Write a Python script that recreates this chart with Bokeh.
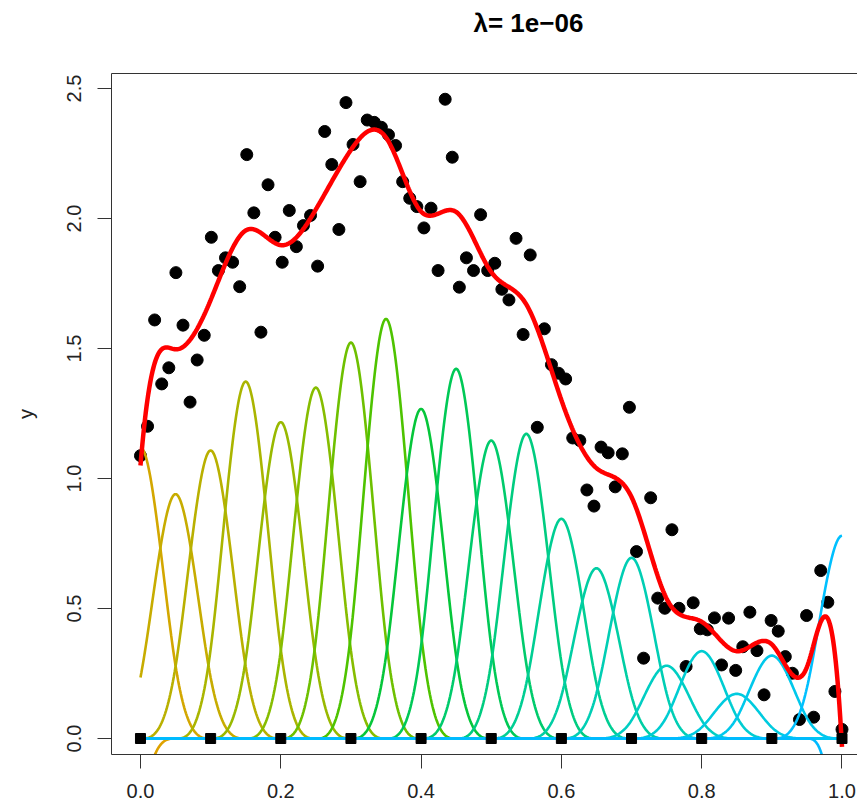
import math
import numpy as np
from bokeh.plotting import figure
from bokeh.models import Range1d, LinearAxis, FixedTicker, ColumnDataSource
from bokeh.embed import file_html
from bokeh.resources import INLINE

# ---- data ----
# observations: 100 equally spaced x in [0, 1]
obs_y = [1.088, 1.201, 1.610, 1.364, 1.426, 1.792, 1.590, 1.294, 1.456, 1.551,
         1.928, 1.800, 1.849, 1.832, 1.738, 2.246, 2.022, 1.563, 2.130, 1.928,
         1.832, 2.031, 1.892, 1.973, 2.012, 1.817, 2.335, 2.208, 1.958, 2.446,
         2.285, 2.142, 2.379, 2.370, 2.351, 2.322, 2.281, 2.142, 2.078, 2.046,
         1.964, 2.040, 1.800, 2.459, 2.236, 1.736, 1.849, 1.800, 2.015, 1.800,
         1.828, 1.728, 1.687, 1.924, 1.554, 1.860, 1.197, 1.576, 1.438, 1.405,
         1.383, 1.156, 1.146, 0.956, 0.894, 1.121, 1.099, 0.968, 1.095, 1.274,
         0.719, 0.309, 0.926, 0.540, 0.501, 0.803, 0.501, 0.277, 0.522, 0.422,
         0.418, 0.464, 0.283, 0.463, 0.262, 0.353, 0.486, 0.338, 0.168, 0.454,
         0.413, 0.315, 0.251, 0.073, 0.473, 0.082, 0.646, 0.524, 0.181, 0.035]
obs_x = list(np.linspace(0.0, 1.0, len(obs_y)))

# cubic B-spline basis: centres (knot spacing 0.05) and the peak height of each scaled basis curve
basis_centers = [-0.05, 0.00, 0.05, 0.10, 0.15, 0.20, 0.25, 0.30, 0.35, 0.40, 0.45, 0.50,
                 0.55, 0.60, 0.65, 0.70, 0.75, 0.80, 0.85, 0.90, 0.95, 1.00, 1.05]
basis_peaks = [-1.22, 1.12, 0.94, 1.108, 1.373, 1.217, 1.35, 1.523, 1.614, 1.268, 1.422, 1.146,
               1.172, 0.845, 0.655, 0.695, 0.28, 0.336, 0.172, 0.319, 0.0, 0.78, -3.25]
knot_spacing = 0.05

# knots shown as squares
knot_x = [0.0, 0.1, 0.2, 0.3, 0.4, 0.5, 0.6, 0.7, 0.8, 0.9, 1.0]

x_ticks = [0.0, 0.2, 0.4, 0.6, 0.8, 1.0]
x_tick_labels = ["0.0", "0.2", "0.4", "0.6", "0.8", "1.0"]
y_ticks = [0.0, 0.5, 1.0, 1.5, 2.0, 2.5]
y_tick_labels = ["0.0", "0.5", "1.0", "1.5", "2.0", "2.5"]

title_text = "λ= 1e−06"
title_anchor = 0.553   # horizontal centre of the title in x-data units (as in the reference)

# ---- helpers ----
def bspline(t):
    a = np.abs(t)
    out = np.zeros_like(a)
    m1 = a < 1
    m2 = (a >= 1) & (a < 2)
    out[m1] = 2.0 / 3.0 - a[m1] ** 2 + a[m1] ** 3 / 2.0
    out[m2] = (2.0 - a[m2]) ** 3 / 6.0
    return out


def hcl_hex(h, c, l):
    hr = math.radians(h)
    U = c * math.cos(hr)
    V = c * math.sin(hr)
    Xn, Yn, Zn = 95.047, 100.0, 108.883
    Y = Yn * (((l + 16) / 116) ** 3 if l > 7.999592 else l / 903.3)
    den = Xn + 15 * Yn + 3 * Zn
    un, vn = 4 * Xn / den, 9 * Yn / den
    u = U / (13 * l) + un
    v = V / (13 * l) + vn
    X = 9.0 * Y * u / (4 * v)
    Z = -X / 3 - 5 * Y + 3 * Y / v
    X, Y, Z = X / 100, Y / 100, Z / 100
    r = 3.240479 * X - 1.537150 * Y - 0.498535 * Z
    g = -0.969256 * X + 1.875992 * Y + 0.041556 * Z
    b = 0.055648 * X - 0.204043 * Y + 1.057311 * Z

    def gam(x):
        x = min(max(x, 0.0), 1.0)
        return 12.92 * x if x <= 0.0031308 else 1.055 * x ** (1 / 2.4) - 0.055
    return "#%02x%02x%02x" % tuple(int(round(gam(q) * 255)) for q in (r, g, b))


xg = np.linspace(0.0, 1.0, 801)
curves = []
for cen, pk in zip(basis_centers, basis_peaks):
    curves.append(pk * bspline((xg - cen) / knot_spacing) / (2.0 / 3.0))
fit = np.sum(curves, axis=0)

n = len(basis_centers)
colors = [hcl_hex(58 + (235 - 58) * i / (n - 1), 100, 70) for i in range(n)]

# ---- figure ----
FONT = "Liberation Sans"
p = figure(width=857, height=806,
           x_range=Range1d(-0.0413, 1.0221), y_range=Range1d(-0.0615, 2.558),
           x_axis_type=None, y_axis_type=None,
           output_backend="svg", toolbar_location=None,
           min_border_left=111, min_border_right=0, min_border_top=73, min_border_bottom=52)
p.outline_line_color = None
p.background_fill_color = "white"
p.border_fill_color = "white"
p.title.text = ""

axis_col = "#333333"
xaxis = LinearAxis(ticker=FixedTicker(ticks=x_ticks),
                   major_label_overrides=dict(zip(x_ticks, x_tick_labels)))
yaxis = LinearAxis(ticker=FixedTicker(ticks=y_ticks),
                   major_label_overrides=dict(zip(y_ticks, y_tick_labels)),
                   axis_label="y")
for ax in (xaxis, yaxis):
    ax.major_tick_out = 14
    ax.major_tick_in = 0
    ax.minor_tick_out = 0
    ax.minor_tick_in = 0
    ax.axis_line_color = axis_col
    ax.major_tick_line_color = axis_col
    ax.major_label_text_font = FONT
    ax.major_label_text_font_size = "20px"
    ax.major_label_text_color = "#222222"
xaxis.major_label_standoff = 15
yaxis.major_label_orientation = "vertical"
yaxis.major_label_standoff = 16
yaxis.axis_label_text_font = FONT
yaxis.axis_label_text_font_size = "20px"
yaxis.axis_label_text_font_style = "normal"
yaxis.axis_label_text_color = "#222222"
yaxis.axis_label_standoff = 28
p.add_layout(xaxis, "below")
p.add_layout(yaxis, "left")

# top border of the box, carrying the plot title as its single label
top_axis = LinearAxis(ticker=FixedTicker(ticks=[title_anchor]),
                      major_label_overrides={title_anchor: title_text},
                      major_tick_out=0, major_tick_in=0, minor_tick_out=0, minor_tick_in=0,
                      major_tick_line_color=None, axis_line_color=axis_col,
                      major_label_standoff=36, major_label_text_font=FONT,
                      major_label_text_font_size="26px", major_label_text_font_style="bold",
                      major_label_text_color="black")
p.add_layout(top_axis, "above")

p.scatter(obs_x, obs_y, size=12, fill_color="black", line_color="black")

src = ColumnDataSource(dict(xs=[xg] * n, ys=curves, color=colors))
p.multi_line(xs="xs", ys="ys", line_color="color", line_width=2.6, source=src)

p.line(xg, fit, line_color="#ff0000", line_width=4.5)
p.scatter(knot_x, [0.0] * len(knot_x), marker="square", size=10,
          fill_color="black", line_color="black")

open("out.html", "w").write(file_html(p, INLINE))
